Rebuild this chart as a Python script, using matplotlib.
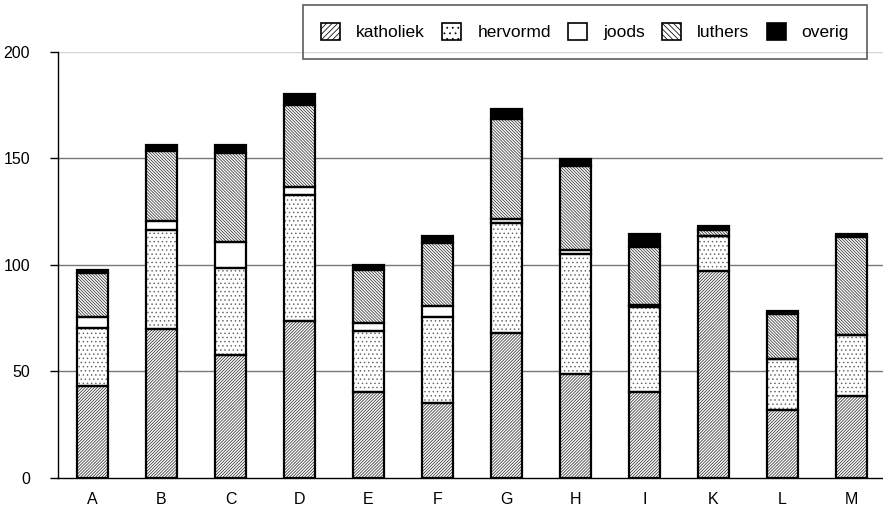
import numpy as np
import matplotlib.pyplot as plt
from matplotlib.patches import Patch

plt.rcParams['font.family'] = ['Liberation Sans', 'DejaVu Sans']
plt.rcParams['hatch.linewidth'] = 0.55

regio = ['A', 'B', 'C', 'D', 'E', 'F', 'G', 'H', 'I', 'K', 'L', 'M']
katholiek = [43.0, 69.8, 57.9, 73.7, 40.3, 35.0, 68.2, 48.6, 40.4, 97.0, 32.0, 38.4]
hervormd = [27.6, 46.4, 40.6, 58.9, 28.7, 40.6, 51.4, 56.3, 39.6, 16.5, 24.0, 28.6]
joods = [4.9, 4.5, 12.2, 3.8, 3.7, 5.1, 2.0, 2.2, 1.0, 0.0, 0.0, 0.0]
luthers = [20.8, 32.9, 41.8, 38.6, 24.7, 29.5, 46.9, 39.4, 27.5, 2.7, 21.1, 46.0]
overig = [1.4, 2.4, 3.5, 5.2, 2.4, 3.5, 4.7, 3.1, 5.9, 2.0, 1.3, 1.6]

series = [
    ('katholiek', katholiek, 'white', '/' * 11, '#333333'),
    ('hervormd', hervormd, 'white', '....', '#666666'),
    ('joods', joods, 'white', '', 'black'),
    ('luthers', luthers, 'white', '\\' * 11, '#333333'),
    ('overig', overig, 'black', '', 'black'),
]
leg_hatch = {'katholiek': '/' * 6, 'hervormd': '...', 'luthers': '\\' * 6}

fig = plt.figure(figsize=(8.83, 5.15), dpi=100)
ax = fig.add_axes([58 / 883, 37 / 515, 828 / 883, 426.3 / 515])

x = np.arange(len(regio))
w = 0.435
bottom = np.zeros(len(regio))
handles = []
for name, vals, fc, hatch, hc in series:
    vals = np.array(vals)
    # hatch layer first, then a crisp black outline on top
    ax.bar(x, vals, w, bottom=bottom, color=fc, edgecolor=hc, hatch=hatch,
           linewidth=0, zorder=3)
    ax.bar(x, vals, w, bottom=bottom, fill=False, edgecolor='black',
           linewidth=1.6, zorder=4)
    bottom += vals
    handles.append(Patch(facecolor=fc, edgecolor='black',
                         hatch=leg_hatch.get(name, ''), linewidth=1.2, label=name))

ax.set_xlim(-0.5, len(regio) - 0.5)
ax.set_ylim(0, 200)
ax.set_yticks([0, 50, 100, 150, 200])
ax.set_xticks(x)
ax.set_xticklabels(regio)
ax.tick_params(axis='x', length=0, pad=10, labelsize=11.5)
ax.tick_params(axis='y', length=6, width=1, pad=14, labelsize=11.5, direction='out')

for v in [50, 100, 150]:
    ax.axhline(v, color='#777777', linewidth=1, zorder=1)
ax.axhline(200, color='#d4d4d4', linewidth=1, zorder=1)

ax.spines['top'].set_visible(False)
ax.spines['right'].set_visible(False)
ax.spines['left'].set_linewidth(1)
ax.spines['bottom'].set_linewidth(1)

leg = fig.legend(handles=handles, loc='upper left', ncol=5,
                 bbox_to_anchor=(303 / 883, 1 - 5 / 515), borderaxespad=0,
                 fontsize=12.5, handlelength=1.09, handleheight=1.09,
                 handletextpad=0.92, columnspacing=1.0, borderpad=1.05,
                 fancybox=False, frameon=True, edgecolor='#444444',
                 facecolor='none')
leg.get_frame().set_linewidth(1.3)

fig.savefig('out.png', dpi=100)
